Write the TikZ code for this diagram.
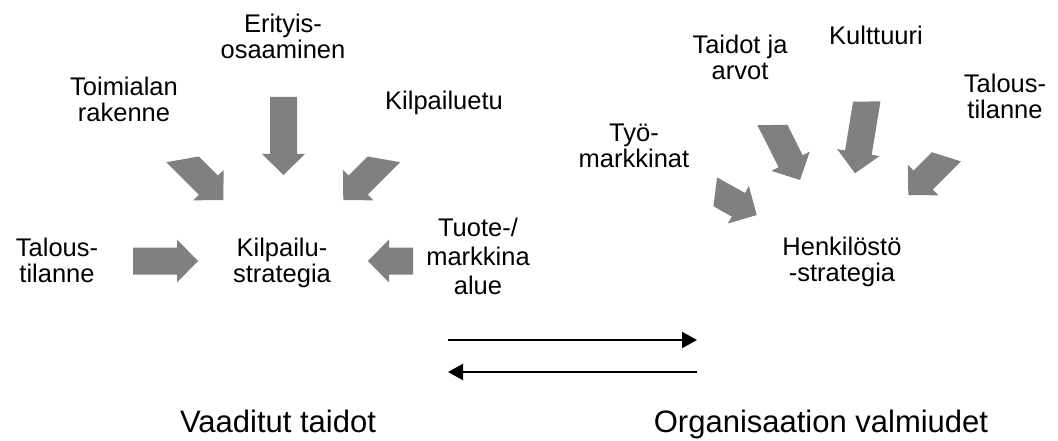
\documentclass[tikz,border=0pt]{standalone}
\usepackage{fontspec}
\setmainfont{Liberation Sans}
\usetikzlibrary{arrows.meta}
\definecolor{arrowgray}{HTML}{808080}
\tikzset{
  lbl/.style={inner sep=0pt, align=center, font=\fontsize{25.5}{26}\selectfont},
  single/.style={inner sep=0pt, anchor=base, font=\fontsize{25.5}{26}\selectfont},
  caption/.style={inner sep=0pt, anchor=base, font=\fontsize{31}{36}\selectfont},
  link/.style={line width=2pt, -{Triangle[length=15pt,width=16pt]}},
  fatarrow/.style={fill=arrowgray},
}
% Block arrow ending at tip #1, turned by #2 degrees;
% #3 and #4 are where the tail ends on each side of the shaft.
\newcommand\fatarrow[4]{%
  \fill[fatarrow, shift={(#1)}, rotate=#2]
    (#3,13.5) -- (-21,13.5) -- (-21,21.5) -- (0,0) -- (-21,-21.5)
    -- (-21,-13.5) -- (#4,-13.5) -- cycle;}

\begin{document}
\begin{tikzpicture}[x=1pt, y=-1pt]
\useasboundingbox (0,0) rectangle (1058,441);

% ---- competitive strategy (left) ----
\node[lbl] (erityis)  at (283,36)  {Erityis-\\osaaminen};
\node[lbl] (toimiala) at (124,99)  {Toimialan\\rakenne};
\node[single] (kilpailuetu) at (444,110) {Kilpailuetu};
\node[lbl] (kstrat)   at (282,262.7) {Kilpailu-\\strategia};
\node[lbl] (talousL)  at (57,260)  {Talous-\\tilanne};
\node[lbl, font=\fontsize{25.5}{29}\selectfont] (tuote) at (478,256) {Tuote-/\\markkina\\alue};

\coordinate (tipErityis) at (283.5,175);
\coordinate (tipToimiala) at (223.3,200);
\coordinate (tipKilpailuetu) at (343.3,200);
\coordinate (tipTalousL) at (198,261);
\coordinate (tipTuote) at (368,261);

\fatarrow{tipErityis}{-90}{-78}{-78}
\fatarrow{tipToimiala}{-45}{-67}{-48}
\fatarrow{tipKilpailuetu}{-135}{-48}{-67}
\fatarrow{tipTalousL}{0}{-65}{-65}
\fatarrow{tipTuote}{180}{-45}{-45}

% ---- personnel strategy (right) ----
\node[lbl] (taidot)   at (740,57)  {Taidot ja\\arvot};
\node[single] (kulttuuri) at (876,45) {Kulttuuri};
\node[lbl] (talousR)  at (1005,96) {Talous-\\tilanne};
\node[lbl] (tyo)      at (634,146) {Työ-\\markkinat};
\node[lbl] (hstrat)   at (842,261.7) {Henkilöstö\\-strategia};

\coordinate (tipTyo) at (756.7,215);
\coordinate (tipTaidot) at (800,180);
\coordinate (tipKulttuuri) at (855,173.3);
\coordinate (tipTalousR) at (908.3,195);

\fatarrow{tipTyo}{-29.2}{-42}{-53}
\fatarrow{tipTaidot}{-63.4}{-68}{-55}
\fatarrow{tipKulttuuri}{-99.3}{-70.5}{-75}
\fatarrow{tipTalousR}{-135}{-47}{-61}

% ---- two-way link between the strategies ----
\coordinate (fwdA) at (448,340);
\coordinate (fwdB) at (697,340);
\coordinate (bwdA) at (697,372);
\coordinate (bwdB) at (448,372);
\draw[link] (fwdA) -- (fwdB);
\draw[link] (bwdA) -- (bwdB);

% ---- captions ----
\node[caption] (vaaditut) at (278,432) {Vaaditut taidot};
\node[caption] (valmiudet) at (821,432) {Organisaation valmiudet};
\end{tikzpicture}
\end{document}
